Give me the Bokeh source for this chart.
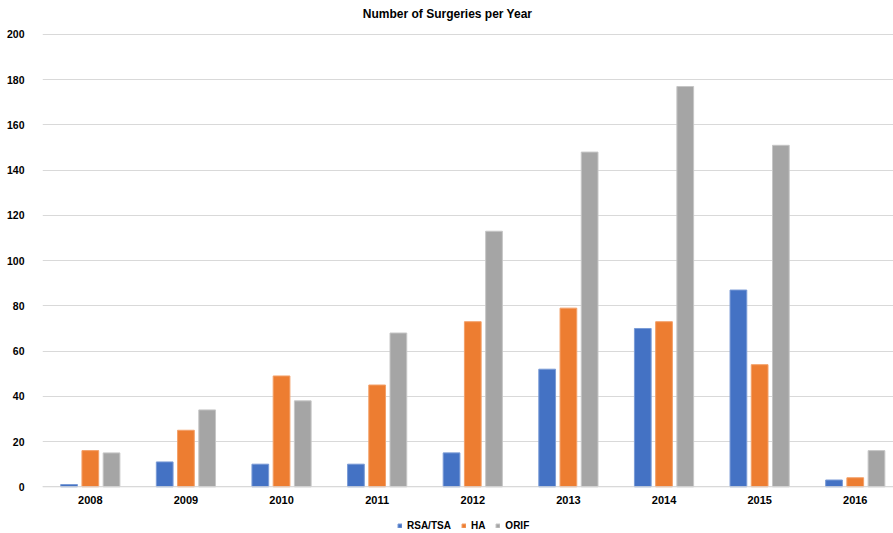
from bokeh.plotting import figure
from bokeh.models import ColumnDataSource, FixedTicker, Legend, LegendItem, Span, Label
from bokeh.embed import file_html
from bokeh.resources import INLINE
from bokeh.transform import dodge
from bokeh.core.properties import value

title_text = "Number of Surgeries per Year"
years = ["2008", "2009", "2010", "2011", "2012", "2013", "2014", "2015", "2016"]
rsa_tsa = [1, 11, 10, 10, 15, 52, 70, 87, 3]
ha = [16, 25, 49, 45, 73, 79, 73, 54, 4]
orif = [15, 34, 38, 68, 113, 148, 177, 151, 16]
y_ticks = [0, 20, 40, 60, 80, 100, 120, 140, 160, 180, 200]

xs = list(range(len(years)))
src = ColumnDataSource(dict(x=xs, rsa=rsa_tsa, ha=ha, orif=orif, year=years, zero=[0] * len(xs)))

FONT = "Liberation Sans"
p = figure(width=893, height=533, output_backend="svg", toolbar_location=None,
           x_range=(-0.5, 8.4), y_range=(-20.65, 215.03), x_axis_location=None,
           min_border_left=42, min_border_right=0, min_border_top=0, min_border_bottom=0)

w = 0.175
d = 0.222
r1 = p.vbar(x=dodge("x", -d, range=p.x_range), top="rsa", width=w, source=src,
            fill_color="#4472C4", line_color="#7a9bd6", line_width=1)
r2 = p.vbar(x="x", top="ha", width=w, source=src,
            fill_color="#ED7D31", line_color="#f3a069", line_width=1)
r3 = p.vbar(x=dodge("x", d, range=p.x_range), top="orif", width=w, source=src,
            fill_color="#A5A5A5", line_color="#c6c6c6", line_width=1)

p.add_layout(Span(location=0, dimension="width", line_color="#d9d9d9", line_width=1))

p.text(x="x", y="zero", text="year", source=src, y_offset=9,
       text_align="center", text_baseline="top",
       text_font=value(FONT), text_font_style="bold", text_font_size="11px",
       text_color="#000000")

p.add_layout(Label(x=405, y=520, x_units="screen", y_units="screen", text=title_text,
                   text_align="center", text_baseline="middle",
                   text_font=FONT, text_font_style="bold", text_font_size="12px",
                   text_color="#000000"))

p.outline_line_color = None
p.background_fill_color = "white"
p.border_fill_color = "white"
p.xgrid.grid_line_color = None
p.ygrid.grid_line_color = "#d9d9d9"
p.ygrid.ticker = FixedTicker(ticks=y_ticks)

p.yaxis.ticker = FixedTicker(ticks=y_ticks)
p.yaxis.axis_line_color = None
p.yaxis.major_tick_line_color = None
p.yaxis.minor_tick_line_color = None
p.yaxis.major_label_standoff = 12
p.yaxis.major_label_text_font = FONT
p.yaxis.major_label_text_font_style = "bold"
p.yaxis.major_label_text_font_size = "10.5px"
p.yaxis.major_label_text_color = "#000000"

legend = Legend(items=[LegendItem(label="RSA/TSA", renderers=[r1]),
                       LegendItem(label="HA", renderers=[r2]),
                       LegendItem(label="ORIF", renderers=[r3])],
                orientation="horizontal", location=(355, 2),
                label_text_font=FONT, label_text_font_style="bold",
                label_text_font_size="10px", label_text_color="#000000",
                glyph_width=5, glyph_height=5, spacing=10, label_standoff=5,
                padding=0, margin=0, border_line_color=None,
                background_fill_alpha=0, label_height=10, label_width=5)
p.add_layout(legend)

open("out.html", "w").write(file_html(p, INLINE))
